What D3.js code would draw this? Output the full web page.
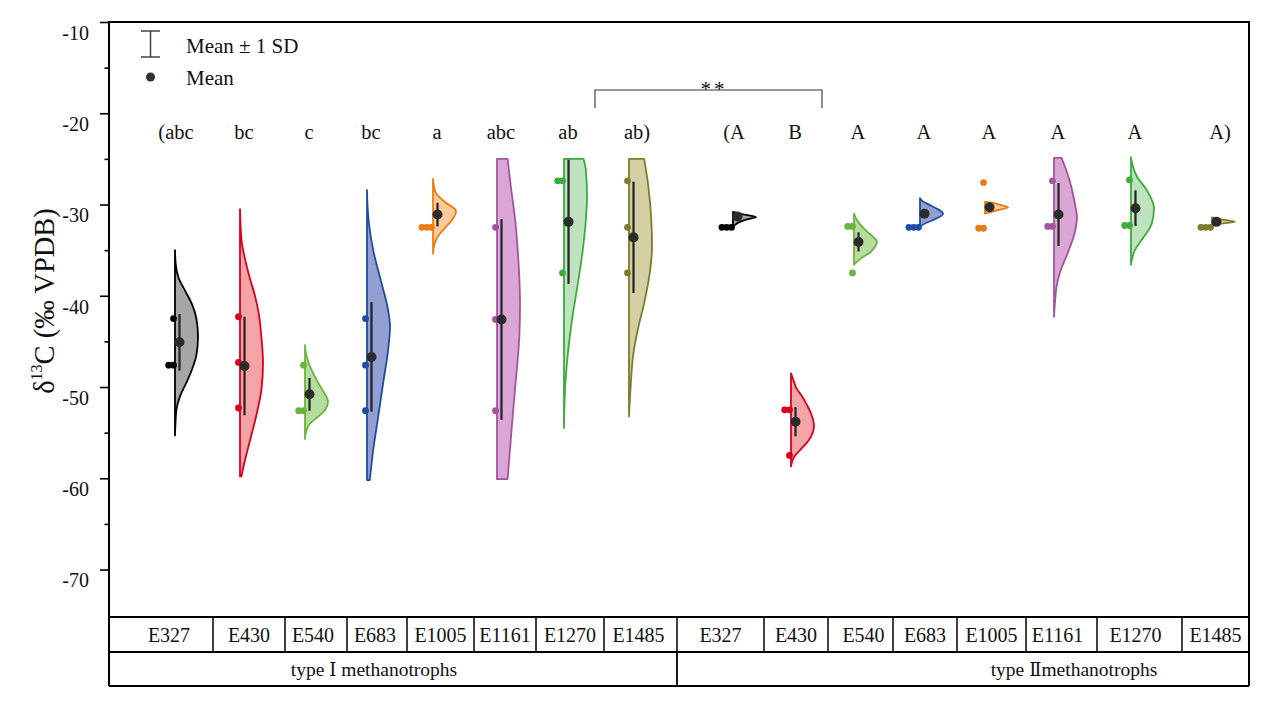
<!DOCTYPE html>
<html><head><meta charset="utf-8">
<script src="https://cdn.jsdelivr.net/npm/d3@7"></script>
<style>
body{margin:0;background:#fff}
svg{display:block;font-family:"Liberation Serif","Times New Roman",serif}
text{font-family:"Liberation Serif","Times New Roman",serif;fill:#111}
.num{font-family:"DejaVu Serif","Liberation Serif",serif}
</style>
</head><body>
<svg id="chart" width="1269" height="702"></svg>
<script>
// ---------------- DATA ----------------
const categories = ["E327","E430","E540","E683","E1005","E1161","E1270","E1485"];
const groups = [["type ","Ⅰ"," methanotrophs"],["type ","Ⅱ","methanotrophs"]];
const yTickValues = [-10,-20,-30,-40,-50,-60,-70];
const yMinorTickValues = [-15,-25,-35,-45,-55,-65];
const lettersI  = ["(abc","bc","c","bc","a","abc","ab","ab)"];
const lettersII = ["(A","B","A","A","A","A","A","A)"];
const significance = "**";

const meansI = [-45.1,-47.7,-50.8,-46.7,-31.1,-42.6,-31.9,-33.6];
const sdI    = [3.1,5.4,1.8,6.0,1.3,11.0,6.8,6.1];
const pointsI = [
  [-42.5,-47.6,-47.6],[-42.3,-47.3,-52.3],[-47.6,-52.6,-52.6],[-42.5,-47.6,-52.6],
  [-32.5,-32.5,-32.5],[-32.5,-42.6,-52.6],[-27.4,-27.4,-37.5],[-27.4,-32.5,-37.5]
];
const densityI = [
  [[-35,0],[-36.5,0.03],[-38,0.15],[-39.5,0.45],[-41,0.75],[-42.5,0.93],[-44.5,1],[-46.5,0.93],[-48,0.75],[-49.5,0.5],[-51,0.22],[-52.5,0.06],[-54,0.02],[-55.3,0]],
  [[-30.5,0],[-32,0.02],[-34,0.07],[-36,0.22],[-38,0.42],[-40,0.65],[-42,0.82],[-44.5,0.93],[-47.4,1],[-50.3,0.93],[-53.2,0.7],[-56,0.42],[-58.3,0.19],[-59.8,0.06]],
  [[-45.4,0],[-46.5,0.06],[-47.5,0.18],[-48.5,0.36],[-49.6,0.59],[-50.5,0.8],[-51.6,1],[-52.5,0.88],[-53.3,0.55],[-54,0.22],[-54.8,0.06],[-55.7,0]],
  [[-28.4,0],[-30,0.02],[-32,0.08],[-35,0.27],[-38.6,0.63],[-41.2,0.89],[-43.4,1],[-45.9,0.92],[-49.6,0.7],[-53.2,0.49],[-56.9,0.27],[-60.2,0.12]],
  [[-27.2,0],[-28,0.04],[-28.8,0.14],[-29.7,0.5],[-30.7,1],[-31.7,0.83],[-32.5,0.55],[-33.1,0.33],[-34.2,0.08],[-35.4,0]],
  [[-25,0.46],[-28,0.6],[-31.7,0.79],[-35,0.9],[-38,0.97],[-41,1],[-44.5,0.97],[-47,0.9],[-50,0.79],[-55.4,0.61],[-60.1,0.46]],
  [[-25,0.85],[-26.2,0.95],[-29.1,1],[-31.7,0.95],[-35.3,0.8],[-39,0.58],[-42.6,0.35],[-46.3,0.17],[-50,0.05],[-52,0.02],[-54.5,0]],
  [[-25,0.66],[-28,0.84],[-31.7,0.97],[-34.6,1],[-37.2,0.92],[-40.8,0.66],[-43.4,0.41],[-46.3,0.19],[-50,0.07],[-53.2,0]]
];

const meansII = [-31.3,-53.8,-34.1,-31.0,-30.3,-31.1,-30.4,-31.9];
const sdII    = [0.2,1.6,1.05,0.35,0.2,3.45,1.95,0.15];
const pointsII = [
  [-32.5,-32.5,-32.5],[-52.5,-52.5,-57.5],[-32.4,-32.4,-37.5],[-32.5,-32.5,-32.5],
  [-27.6,-32.6,-32.6],[-27.4,-32.4,-32.4],[-27.3,-32.3,-32.3],[-32.5,-32.5,-32.5]
];
const densityII = [
  [[-30.8,0],[-31.0,0.3],[-31.2,0.7],[-31.4,1],[-31.6,0.65],[-31.9,0.3],[-32.2,0.1],[-32.5,0]],
  [[-48.5,0],[-49.2,0.1],[-50.2,0.25],[-51,0.48],[-52,0.7],[-52.9,0.87],[-54.3,1],[-55.8,0.78],[-56.9,0.4],[-57.6,0.15],[-58.7,0]],
  [[-31,0],[-31.5,0.08],[-32.1,0.24],[-33,0.58],[-33.6,0.86],[-34.1,1],[-34.6,0.92],[-35.2,0.72],[-35.9,0.3],[-36.6,0]],
  [[-29.3,0],[-29.6,0.1],[-29.9,0.3],[-30.4,0.7],[-31,1],[-31.7,0.57],[-32.1,0.2],[-32.4,0]],
  [[-29.7,0],[-29.8,0.3],[-30.0,0.6],[-30.3,1],[-30.6,0.6],[-30.8,0.3],[-31.0,0]],
  [[-24.9,0.33],[-26,0.5],[-27.3,0.67],[-28.8,0.82],[-30.2,0.93],[-31.4,1],[-33.1,0.9],[-35.3,0.6],[-37.5,0.25],[-39,0.11],[-40.5,0.05],[-42.3,0]],
  [[-24.8,0],[-25.5,0.05],[-26.9,0.25],[-28.4,0.68],[-30.4,1],[-32.1,0.9],[-33.9,0.46],[-35,0.17],[-36.6,0]],
  [[-31.4,0],[-31.6,0.35],[-31.9,1],[-32.1,0.4],[-32.4,0]]
];

// ---------------- STYLE / LAYOUT ----------------
const fills   = ["#a6a6a6","#f4a3a6","#b7dca0","#939fd3","#fccb9b","#daa6d5","#bfe2bf","#d3d1a4"];
const strokes = ["#000000","#d9001b","#6cb33f","#1f4e9f","#eb7d12","#a4549f","#3cac3c","#7e7b2b"];
const plot = {left:109, right:1249, top:22, bottom:617};
const rowY = [617,652,686];
const cellEdges = [109,213,285,347,407,474,536,604,677,764,828,893,957,1026,1097,1182,1249];
const labelShift = [8,0,-3,-2,0,0,0,-2, 0,0,3,0,0,-4,-4,0];
const groupLabelX = [374,1074];
const violinPos = [175,240,305,367,433,497,564,629, 733,791,854,920,985,1054,1131,1212];

const keys = [];
groups.forEach((g,gi)=>categories.forEach(c=>keys.push(gi+"-"+c)));
const x = d3.scaleOrdinal().domain(keys).range(violinPos);
const y = d3.scaleLinear().domain([-75.2,-10]).range([plot.bottom, plot.top]);
const w = d3.scaleLinear().domain([0,1]).range([0,23]);

const series = [];
[[meansI,sdI,pointsI,densityI,lettersI],[meansII,sdII,pointsII,densityII,lettersII]].forEach((arr,gi)=>{
  categories.forEach((c,ci)=>{
    series.push({key:gi+"-"+c, ci, mean:arr[0][ci], sd:arr[1][ci], points:arr[2][ci], density:arr[3][ci], letter:arr[4][ci]});
  });
});

const svg = d3.select("#chart");

// violins
const area = d3.area().y(d=>y(d[0])).curve(d3.curveMonotoneY);
series.forEach(s=>{
  const x0 = x(s.key);
  svg.append("path")
    .datum(s.density)
    .attr("d", area.x0(x0).x1(d=>x0 + w(d[1])))
    .attr("fill", fills[s.ci])
    .attr("stroke", strokes[s.ci])
    .attr("stroke-width", 1.8)
    .attr("stroke-linejoin","round");
});

// raw points
series.forEach(s=>{
  const x0 = x(s.key);
  const seen = [];
  s.points.forEach(v=>{
    const n = seen.filter(u=>Math.abs(u-v)<0.3).length;
    seen.push(v);
    svg.append("circle")
      .attr("cx", x0 - 1.5 - 4.8*n)
      .attr("cy", y(v))
      .attr("r", 3.4)
      .attr("fill", strokes[s.ci]);
  });
});

// mean ± SD
series.forEach(s=>{
  const mx = x(s.key) + 4.5;
  svg.append("line")
    .attr("x1",mx).attr("x2",mx)
    .attr("y1",y(s.mean+s.sd)).attr("y2",y(s.mean-s.sd))
    .attr("stroke","#222").attr("stroke-width",2.2);
  svg.append("circle")
    .attr("cx",mx).attr("cy",y(s.mean)).attr("r",5)
    .attr("fill","#2b2b2b");
});

// significance letters
series.forEach(s=>{
  let dx = 4;
  if (s.letter.startsWith("(")) dx -= 3;
  if (s.letter.endsWith(")")) dx += 4;
  svg.append("text")
    .attr("x", x(s.key)+dx).attr("y",139)
    .attr("text-anchor","middle")
    .attr("font-size",20.5)
    .text(s.letter);
});

// bracket
svg.append("path")
  .attr("d", `M595,108V90H822V108`)
  .attr("fill","none").attr("stroke","#333").attr("stroke-width",1.1);
svg.append("text")
  .attr("x",714).attr("y",96).attr("text-anchor","middle")
  .attr("font-size",21).attr("letter-spacing",3)
  .text(significance);

// y axis
const yAxis = d3.axisLeft(y).tickValues(yTickValues).tickSize(9).tickPadding(11)
  .tickFormat(d=>String(d));
const gy = svg.append("g").attr("transform",`translate(${plot.left},0)`).call(yAxis);
gy.attr("font-family",null);
gy.select(".domain").remove();
gy.selectAll(".tick line").attr("stroke","#000").attr("stroke-width",1.6);
gy.selectAll(".tick text")
  .attr("font-size",20).attr("fill","#111").attr("dy","0.32em")
  .attr("transform","translate(0,11)");
const yMinor = d3.axisLeft(y).tickValues(yMinorTickValues).tickSize(4.5).tickFormat("");
const gm = svg.append("g").attr("transform",`translate(${plot.left},0)`).call(yMinor);
gm.select(".domain").remove();
gm.selectAll(".tick line").attr("stroke","#000").attr("stroke-width",1.6);

// y title
const yt = svg.append("text")
  .attr("transform","translate(54,301) rotate(-90)")
  .attr("text-anchor","middle").attr("font-size",28.5);
yt.append("tspan").text("δ");
yt.append("tspan").attr("font-size",16).attr("dy",-12).text("13");
yt.append("tspan").attr("dy",12).text("C (‰ VPDB)");

// frame and table
const frame = svg.append("g").attr("stroke","#000").attr("fill","none");
frame.append("path").attr("stroke-width",2)
  .attr("d",`M${plot.left},${rowY[2]}V${plot.top}H${plot.right}V${rowY[2]}`);
rowY.forEach((ry,i)=>{
  frame.append("line").attr("x1",plot.left).attr("x2",plot.right)
    .attr("y1",ry).attr("y2",ry).attr("stroke-width",i===0?2:1.8);
});
cellEdges.slice(1,-1).forEach(cx=>{
  frame.append("line").attr("x1",cx).attr("x2",cx)
    .attr("y1",rowY[0]).attr("y2",rowY[1]).attr("stroke-width",1.5);
});
frame.append("line").attr("x1",cellEdges[8]).attr("x2",cellEdges[8])
  .attr("y1",rowY[1]).attr("y2",rowY[2]).attr("stroke-width",1.8);

// category labels
keys.forEach((k,i)=>{
  svg.append("text")
    .attr("x",(cellEdges[i]+cellEdges[i+1])/2 + labelShift[i]).attr("y",642)
    .attr("text-anchor","middle").attr("font-size",20)
    .text(categories[i%8]);
});
groups.forEach((g,gi)=>{
  const t = svg.append("text")
    .attr("x",groupLabelX[gi]).attr("y",676)
    .attr("text-anchor","middle").attr("font-size",19.5);
  t.append("tspan").text(g[0]);
  t.append("tspan").attr("class","num").attr("font-size",18).text(g[1]);
  t.append("tspan").text(g[2]);
});

// legend
const lg = svg.append("g");
lg.append("path").attr("d","M141,31H160M150.5,31V57M141,57H160")
  .attr("stroke","#444").attr("stroke-width",1.5).attr("fill","none");
lg.append("circle").attr("cx",150.5).attr("cy",77).attr("r",4.5).attr("fill","#333");
lg.append("text").attr("x",186).attr("y",53).attr("font-size",21).text("Mean ± 1 SD");
lg.append("text").attr("x",186).attr("y",85).attr("font-size",21).text("Mean");
</script>
</body></html>
